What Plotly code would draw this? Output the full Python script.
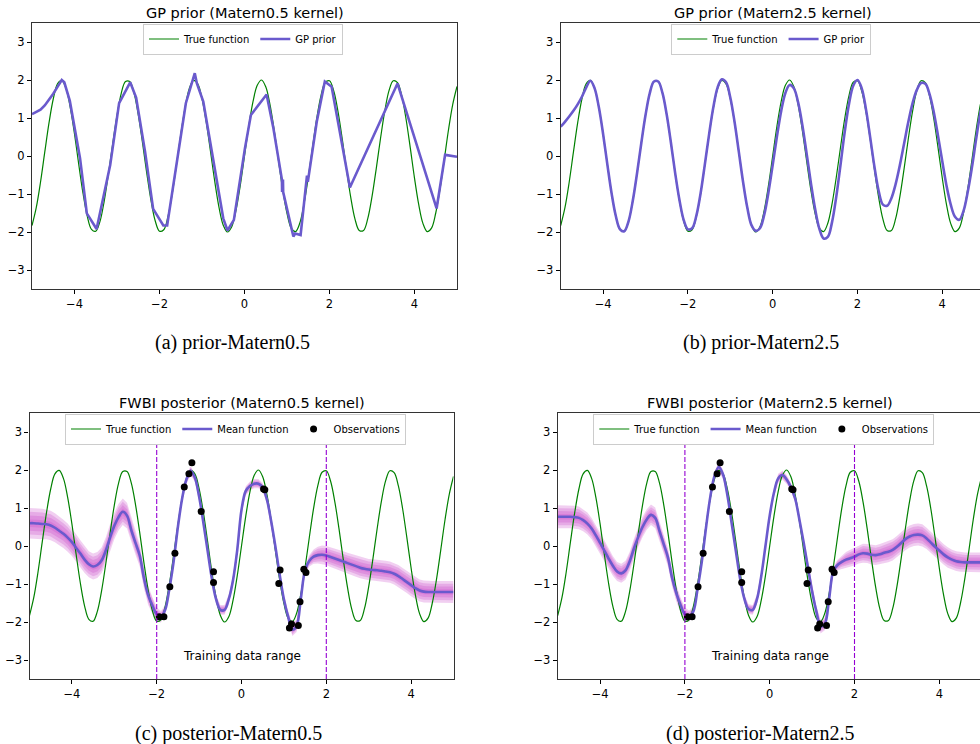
import numpy as np
import plotly.graph_objects as go

# sample grid shared by the smooth curves
x_grid = np.round(np.linspace(-5.0, 5.0, 101), 2)

true_fn = [
    -1.83, -1.36, -0.69, 0.10, 0.87, 1.50, 1.90, 1.99, 1.78, 1.28, 0.58,
    -0.22, -0.98, -1.58, -1.93, -1.98, -1.72, -1.18, -0.46, 0.33, 1.07,
    1.65, 1.96, 1.96, 1.66, 1.09, 0.35, -0.45, -1.17, -1.71, -1.98,
    -1.94, -1.59, -0.99, -0.23, 0.56, 1.26, 1.77, 1.99, 1.90, 1.51,
    0.89, 0.12, -0.67, -1.35, -1.82, -2.00, -1.86, -1.43, -0.78, 0.00,
    0.78, 1.43, 1.86, 2.00, 1.82, 1.35, 0.67, -0.12, -0.89, -1.51,
    -1.90, -1.99, -1.77, -1.26, -0.56, 0.23, 0.99, 1.59, 1.94, 1.98,
    1.71, 1.17, 0.45, -0.35, -1.09, -1.66, -1.96, -1.96, -1.65, -1.07,
    -0.33, 0.46, 1.18, 1.72, 1.98, 1.93, 1.58, 0.98, 0.22, -0.58,
    -1.28, -1.78, -1.99, -1.90, -1.50, -0.87, -0.10, 0.69, 1.36, 1.83,
]

# GP prior sample, Matern 0.5 kernel (piecewise path)
prior_m05_x = [
    -5.0, -4.9, -4.8, -4.7, -4.6, -4.5, -4.4, -4.3, -4.24, -4.11,
    -3.87, -3.71, -3.48, -3.16,
    -2.95, -2.69, -2.55, -2.34, -2.15, -1.91, -1.82, -1.6, -1.38, -1.17,
    -1.12, -0.97, -0.73, -0.5, -0.4, -0.25, 0.01, 0.15, 0.52, 0.68,
    0.88, 0.885, 0.905, 0.91, 1.15, 1.19, 1.32, 1.46, 1.47, 1.49,
    1.70, 1.89, 2.05, 2.48, 3.60, 4.52, 4.72, 5.0,
]
prior_m05_y = [
    1.10, 1.15, 1.22, 1.33, 1.47, 1.64, 1.82, 2.00, 1.94, 1.45,
    -0.06, -1.51, -1.92, -0.24,
    1.39, 1.94, 1.54, 0.11, -1.39, -1.83, -1.83, -0.19, 1.39, 2.18,
    1.91, 1.43, -0.15, -1.64, -1.96, -1.68, 0.20, 1.08, 1.62, 0.73,
    -0.62, -0.95, -0.62, -0.95, -2.12, -2.04, -2.08, -0.68, -0.52, -0.68,
    0.90, 1.96, 1.82, -0.83, 1.91, -1.38, 0.03, -0.02,
]

# GP prior sample, Matern 2.5 kernel
prior_m25 = [
    0.77, 0.90, 1.04, 1.19, 1.36, 1.56, 1.80, 1.98, 1.78, 1.28, 0.58,
    -0.22, -0.98, -1.58, -1.93, -1.98, -1.72, -1.18, -0.46, 0.33, 1.07,
    1.65, 1.96, 1.96, 1.66, 1.09, 0.35, -0.45, -1.15, -1.68, -1.93,
    -1.90, -1.57, -0.98, -0.22, 0.57, 1.28, 1.80, 2.02, 1.94, 1.54,
    0.90, 0.12, -0.67, -1.35, -1.82, -1.97, -1.90, -1.55, -0.96, -0.24,
    0.51, 1.18, 1.66, 1.87, 1.78, 1.41, 0.81, 0.07, -0.70, -1.39,
    -1.91, -2.17, -2.13, -1.74, -1.07, -0.23, 0.64, 1.37, 1.85, 2.00,
    1.78, 1.23, 0.49, -0.28, -0.92, -1.28, -1.31, -1.11, -0.74, -0.24,
    0.33, 0.90, 1.39, 1.74, 1.92, 1.90, 1.63, 1.15, 0.53, -0.14,
    -0.78, -1.28, -1.60, -1.68, -1.45, -0.95, -0.30, 0.45, 1.15, 1.65,
]

# FWBI posterior mean and band half-width, Matern 0.5
post_m05_mean = [
    0.60, 0.60, 0.59, 0.58, 0.57, 0.54, 0.48, 0.40, 0.32, 0.22, 0.10,
    -0.05, -0.20, -0.36, -0.48, -0.54, -0.50, -0.38, -0.12, 0.22, 0.53,
    0.76, 0.90, 0.80, 0.42, 0.08, -0.25, -0.85, -1.30, -1.57, -1.80,
    -1.86, -1.68, -1.12, -0.40, 0.50, 1.25, 1.75, 1.98, 1.80, 1.30,
    0.62, -0.12, -0.85, -1.40, -1.68, -1.68, -1.40, -0.90, -0.10, 0.95,
    1.45, 1.58, 1.64, 1.64, 1.54, 1.22, 0.65, -0.02, -0.75, -1.40,
    -1.86, -2.20, -2.10, -1.38, -0.63, -0.39, -0.28, -0.24, -0.23, -0.25,
    -0.29, -0.33, -0.37, -0.41, -0.45, -0.49, -0.53, -0.57, -0.60, -0.62,
    -0.63, -0.64, -0.65, -0.67, -0.69, -0.73, -0.79, -0.87, -0.95, -1.03,
    -1.11, -1.17, -1.20, -1.21, -1.21, -1.21, -1.21, -1.21, -1.21, -1.21,
]
post_m05_hw = [
    0.40, 0.40, 0.40, 0.40, 0.39, 0.39, 0.38, 0.38, 0.37, 0.37, 0.36,
    0.36, 0.35, 0.35, 0.34, 0.34, 0.34, 0.34, 0.35, 0.35, 0.35,
    0.35, 0.35, 0.34, 0.33, 0.31, 0.29, 0.27, 0.25, 0.22, 0.19,
    0.15, 0.12, 0.10, 0.10, 0.10, 0.11, 0.12, 0.12, 0.11, 0.11,
    0.11, 0.11, 0.11, 0.12, 0.13, 0.13, 0.13, 0.13, 0.13, 0.12,
    0.12, 0.12, 0.12, 0.12, 0.11, 0.11, 0.11, 0.11, 0.11, 0.12,
    0.14, 0.17, 0.16, 0.12, 0.11, 0.15, 0.19, 0.22, 0.24, 0.25,
    0.26, 0.26, 0.27, 0.27, 0.27, 0.28, 0.28, 0.28, 0.28, 0.28,
    0.28, 0.28, 0.28, 0.28, 0.28, 0.28, 0.29, 0.29, 0.29, 0.29,
    0.29, 0.29, 0.29, 0.29, 0.29, 0.29, 0.29, 0.29, 0.29, 0.29,
]

# FWBI posterior mean and band half-width, Matern 2.5
post_m25_mean = [
    0.77, 0.77, 0.77, 0.77, 0.76, 0.74, 0.68, 0.59, 0.46, 0.28, 0.08,
    -0.12, -0.33, -0.52, -0.67, -0.72, -0.64, -0.40, -0.06, 0.24, 0.50,
    0.70, 0.82, 0.74, 0.40, 0.05, -0.30, -0.85, -1.25, -1.56, -1.80,
    -1.85, -1.72, -1.12, -0.40, 0.50, 1.30, 1.85, 2.08, 1.88, 1.35,
    0.62, -0.12, -0.85, -1.38, -1.66, -1.68, -1.40, -0.80, 0.00, 0.80,
    1.40, 1.78, 1.87, 1.75, 1.55, 1.25, 0.70, 0.10, -0.55, -1.20,
    -1.72, -2.12, -2.05, -1.40, -0.66, -0.50, -0.42, -0.36, -0.32, -0.28,
    -0.22, -0.19, -0.20, -0.23, -0.24, -0.22, -0.18, -0.15, -0.10, -0.02,
    0.08, 0.18, 0.25, 0.29, 0.30, 0.28, 0.20, 0.09, -0.02, -0.12,
    -0.22, -0.30, -0.36, -0.40, -0.42, -0.43, -0.43, -0.43, -0.43, -0.43,
]
post_m25_hw = [
    0.30, 0.30, 0.30, 0.30, 0.30, 0.30, 0.29, 0.29, 0.28, 0.28, 0.27,
    0.27, 0.26, 0.26, 0.25, 0.25, 0.25, 0.25, 0.26, 0.26, 0.27,
    0.27, 0.27, 0.27, 0.26, 0.25, 0.24, 0.23, 0.22, 0.20, 0.18,
    0.15, 0.12, 0.10, 0.10, 0.10, 0.11, 0.12, 0.13, 0.12, 0.11,
    0.11, 0.11, 0.11, 0.12, 0.13, 0.13, 0.13, 0.12, 0.12, 0.12,
    0.12, 0.12, 0.12, 0.12, 0.11, 0.11, 0.11, 0.11, 0.11, 0.12,
    0.14, 0.18, 0.17, 0.13, 0.11, 0.14, 0.17, 0.20, 0.22, 0.23,
    0.24, 0.25, 0.25, 0.26, 0.26, 0.27, 0.27, 0.28, 0.28, 0.28,
    0.28, 0.29, 0.29, 0.29, 0.29, 0.29, 0.28, 0.28, 0.28, 0.27,
    0.27, 0.27, 0.26, 0.26, 0.26, 0.26, 0.26, 0.26, 0.26, 0.26,
]

# training observations
obs_x = [-1.94, -1.83, -1.69, -1.57, -1.35, -1.24, -1.17, -0.95, -0.66, -0.66,
         0.52, 0.55, 0.91, 0.88, 1.13, 1.18, 1.34, 1.38, 1.47, 1.52]
obs_y = [-1.86, -1.86, -1.07, -0.19, 1.55, 1.90, 2.19, 0.91, -0.68, -0.96,
         1.50, 1.48, -0.63, -0.99, -2.16, -2.05, -2.09, -1.47, -0.61, -0.70]

train_lo, train_hi = -2.0, 2.0

titles = ["GP prior (Matern0.5 kernel)", "GP prior (Matern2.5 kernel)",
          "FWBI posterior (Matern0.5 kernel)", "FWBI posterior (Matern2.5 kernel)"]
captions = ["(a) prior-Matern0.5", "(b) prior-Matern2.5",
            "(c) posterior-Matern0.5", "(d) posterior-Matern2.5"]

W, H = 980, 744
GREEN = "#008000"
PURPLE = "#6A5ACD"
BAND = "rgba(200,70,200,0.26)"
FONT = "DejaVu Sans"

# panel boxes in pixels: left, right, top, bottom, x-range max
panels = [
    (32.0, 457.0, 23.0, 289.0, 5.0),
    (560.7, 980.0, 23.0, 289.0, 4.89),
    (29.5, 453.5, 413.0, 679.0, 5.0),
    (557.7, 980.0, 413.0, 679.0, 4.96),
]

fig = go.Figure()
layout = dict(width=W, height=H, margin=dict(l=0, r=0, t=0, b=0),
              paper_bgcolor="white", plot_bgcolor="white",
              showlegend=True, font=dict(family=FONT, color="black"))
annotations = []
shapes = []

for i, (l, r, t, b, xmax) in enumerate(panels):
    k = "" if i == 0 else str(i + 1)
    xa, ya = "x" + k, "y" + k
    right_cut = xmax < 5.0
    layout["xaxis" + k] = dict(
        domain=[l / W, r / W], anchor=ya, range=[-5, xmax],
        tickvals=[-4, -2, 0, 2, 4], ticks="outside", ticklen=4, tickwidth=1,
        tickcolor="black", showgrid=False, zeroline=False, showline=True,
        linecolor="#333333", linewidth=1.1, mirror=True,
        tickfont=dict(size=11.5, family=FONT, color="black"))
    layout["yaxis" + k] = dict(
        domain=[1 - b / H, 1 - t / H], anchor=xa, range=[-3.5, 3.5],
        tickvals=[-3, -2, -1, 0, 1, 2, 3], ticks="outside", ticklen=4,
        tickwidth=1, tickcolor="black", showgrid=False, zeroline=False,
        showline=True, linecolor="#333333", linewidth=1.1,
        mirror=not right_cut,
        tickfont=dict(size=11.5, family=FONT, color="black"))
    annotations.append(dict(
        text=titles[i], xref=xa, x=0, yref="paper", y=1 - (t - 10) / H,
        xanchor="center", yanchor="middle", showarrow=False,
        font=dict(size=14.5, family=FONT, color="black")))

leg = ["legend", "legend2", "legend3", "legend4"]

# prior panels
fig.add_trace(go.Scatter(x=x_grid, y=true_fn, mode="lines", name="True function",
                         line=dict(color=GREEN, width=1.2, shape="spline"),
                         xaxis="x", yaxis="y", legend="legend"))
fig.add_trace(go.Scatter(x=prior_m05_x, y=prior_m05_y, mode="lines", name="GP prior",
                         line=dict(color=PURPLE, width=2.6),
                         xaxis="x", yaxis="y", legend="legend"))
fig.add_trace(go.Scatter(x=x_grid, y=true_fn, mode="lines", name="True function",
                         line=dict(color=GREEN, width=1.2, shape="spline"),
                         xaxis="x2", yaxis="y2", legend="legend2"))
fig.add_trace(go.Scatter(x=x_grid, y=prior_m25, mode="lines", name="GP prior",
                         line=dict(color=PURPLE, width=2.6, shape="spline"),
                         xaxis="x2", yaxis="y2", legend="legend2"))

# posterior panels
for mean, hw, xa, ya, lg in [(post_m05_mean, post_m05_hw, "x3", "y3", "legend3"),
                              (post_m25_mean, post_m25_hw, "x4", "y4", "legend4")]:
    m = np.array(mean)
    h = np.array(hw)
    for frac in [1.0, 0.75, 0.5, 0.25]:
        upper = m + frac * h
        lower = m - frac * h
        fig.add_trace(go.Scatter(
            x=np.concatenate([x_grid, x_grid[::-1]]),
            y=np.concatenate([upper, lower[::-1]]),
            mode="lines", fill="toself", fillcolor=BAND,
            line=dict(width=0, color=BAND), hoverinfo="skip",
            showlegend=False, xaxis=xa, yaxis=ya, legend=lg))
    fig.add_trace(go.Scatter(x=x_grid, y=true_fn, mode="lines", name="True function",
                             line=dict(color=GREEN, width=1.2, shape="spline"),
                             xaxis=xa, yaxis=ya, legend=lg))
    fig.add_trace(go.Scatter(x=x_grid, y=mean, mode="lines", name="Mean function",
                             line=dict(color=PURPLE, width=2.6, shape="spline"),
                             xaxis=xa, yaxis=ya, legend=lg))
    fig.add_trace(go.Scatter(x=obs_x, y=obs_y, mode="markers", name="Observations",
                             marker=dict(color="black", size=7),
                             xaxis=xa, yaxis=ya, legend=lg))
    for xv in (train_lo, train_hi):
        shapes.append(dict(type="line", xref=xa, x0=xv, x1=xv,
                           yref=ya + " domain", y0=0, y1=1,
                           line=dict(color="#9400D3", width=1.1, dash="5px,2px")))
    annotations.append(dict(text="Training data range", xref=xa, x=0, yref=ya, y=-2.9,
                            xanchor="center", yanchor="middle", showarrow=False,
                            font=dict(size=12, family=FONT, color="black")))

legend_pos = [(143, 23.5), (671.3, 23.5), (65, 413.5), (593.3, 413.5)]
for name, (lx, ly) in zip(leg, legend_pos):
    layout[name] = dict(x=lx / W, y=1 - ly / H, xanchor="left", yanchor="top",
                        orientation="h", bgcolor="white", bordercolor="#cccccc",
                        borderwidth=1, font=dict(size=10, family=FONT, color="black"))

cap_pos = [(232, 343), (761, 343), (228.5, 733), (760, 733)]
for txt, (cx, cy) in zip(captions, cap_pos):
    annotations.append(dict(text=txt, xref="paper", x=cx / W, yref="paper", y=1 - cy / H,
                            xanchor="center", yanchor="middle", showarrow=False,
                            font=dict(size=20, family="Liberation Serif", color="black")))

layout["annotations"] = annotations
layout["shapes"] = shapes
fig.update_layout(**layout)
fig.write_html("out.html")
